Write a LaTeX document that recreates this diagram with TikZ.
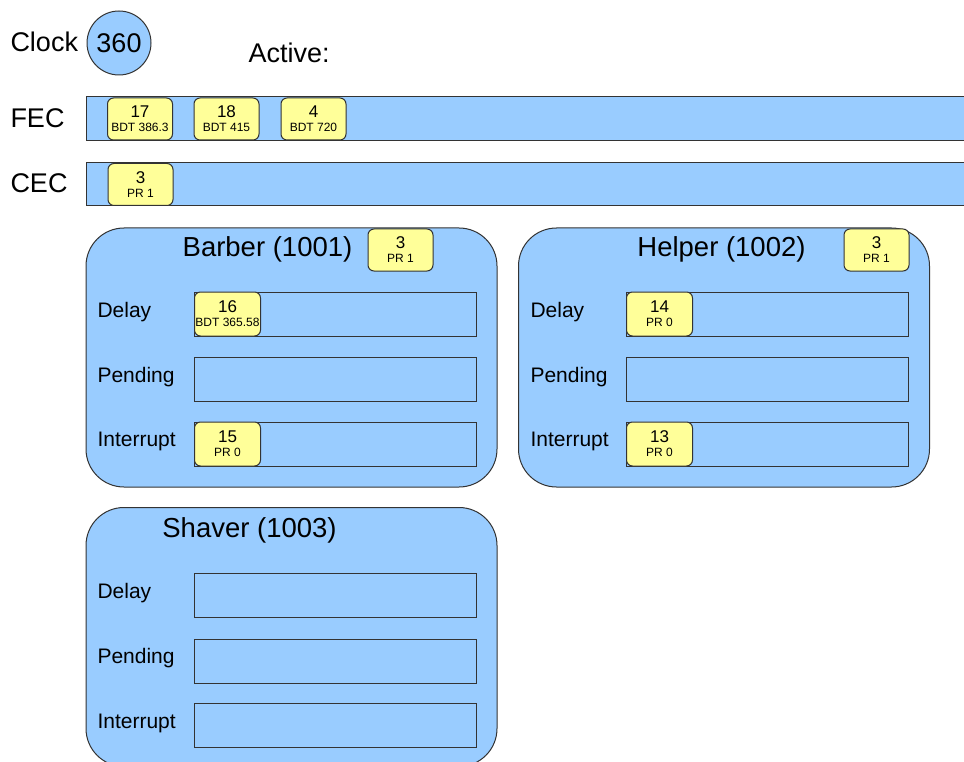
\documentclass[tikz,border=0pt]{standalone}
\usepackage{fontspec}
\setmainfont{Liberation Sans}
\usetikzlibrary{positioning}

\definecolor{laneblue}{HTML}{99CCFF}
\definecolor{itemyellow}{HTML}{FFFF99}
\definecolor{edgegray}{HTML}{333333}
\newcommand{\smalltxt}{\fontsize{12}{13}\selectfont}

\begin{document}
\begin{tikzpicture}[x=1pt, y=-1pt, line width=1pt,
    big/.style={inner sep=0pt, font=\fontsize{27}{29}\selectfont},
    lbl/.style={inner sep=0pt, anchor=base west, font=\fontsize{21}{23}\selectfont},
    title/.style={inner sep=0pt, anchor=base, font=\fontsize{27.5}{29}\selectfont},
    queue/.style={draw=edgegray, fill=laneblue, inner sep=0pt, minimum width=884pt},
    proc/.style={draw=edgegray, fill=laneblue, inner sep=0pt, rounded corners=38pt, minimum width=411pt, minimum height=259pt},
    slot/.style={draw=edgegray, fill=laneblue, inner sep=0pt, minimum width=282pt, minimum height=44pt},
    token/.style={draw=edgegray, fill=itemyellow, inner sep=0pt, rounded corners=6pt, minimum width=65pt, minimum height=42pt, align=center, font=\fontsize{17}{14}\selectfont}]
        \path[use as bounding box] (0,0) rectangle (964,762);
        \clip (0,0) rectangle (964,762);
        % clock and active
        \node (clocklabel) at (10,52) [big, anchor=base west] {Clock};
        \node (clock) at (119,43) [circle, draw=edgegray, fill=laneblue, minimum size=64pt, inner sep=0pt, font=\fontsize{27}{29}\selectfont] {360};
        \node (active) at (248,63) [big, anchor=base west] {Active:};
        % event chains
        \node (feclabel) at (10,128) [big, anchor=base west] {FEC};
        \node (fec) at (528,119) [queue, minimum height=44pt] {};
        \node (fec17) at (140,119) [token] {17\\{\smalltxt BDT 386.3}};
        \node (fec18) at (226.5,119) [token] {18\\{\smalltxt BDT 415}};
        \node (fec4) at (313.5,119) [token] {4\\{\smalltxt BDT 720}};
        \node (ceclabel) at (10,193) [big, anchor=base west] {CEC};
        \node (cec) at (528,184.5) [queue, minimum height=43pt] {};
        \node (cec3) at (140.5,184.5) [token] {3\\{\smalltxt PR 1}};
        % barber
        \node (barber) at (291.5,357.5) [proc] {};
        \node (barbertitle) at (267.5,257) [title] {Barber (1001)};
        \node (barbertok) at (400.5,250) [token] {3\\{\smalltxt PR 1}};
        \node (barberdelay) at (335.5,314) [slot] {};
        \node (barberpending) at (335.5,379) [slot] {};
        \node (barberinterrupt) at (335.5,444) [slot] {};
        \node at (97,317) [lbl] {Delay};
        \node at (97,382) [lbl] {Pending};
        \node at (97,446) [lbl] {Interrupt};
        \node (tok16) at (barberdelay.west) [token, anchor=west, minimum width=66pt, minimum height=44pt] {16\\{\smalltxt BDT 365.58}};
        \node (tok15) at (barberinterrupt.west) [token, anchor=west, minimum width=66pt, minimum height=44pt] {15\\{\smalltxt PR 0}};
        % helper
        \node (helper) at (724,357.5) [proc] {};
        \node (helpertitle) at (721.5,257) [title] {Helper (1002)};
        \node (helpertok) at (876.5,250) [token] {3\\{\smalltxt PR 1}};
        \node (helperdelay) at (767.5,314) [slot] {};
        \node (helperpending) at (767.5,379) [slot] {};
        \node (helperinterrupt) at (767.5,444) [slot] {};
        \node at (530,317) [lbl] {Delay};
        \node at (530,382) [lbl] {Pending};
        \node at (530,446) [lbl] {Interrupt};
        \node (tok14) at (helperdelay.west) [token, anchor=west, minimum width=66pt, minimum height=44pt] {14\\{\smalltxt PR 0}};
        \node (tok13) at (helperinterrupt.west) [token, anchor=west, minimum width=66pt, minimum height=44pt] {13\\{\smalltxt PR 0}};
        % shaver
        \node (shaver) at (291.5,637) [proc] {};
        \node (shavertitle) at (249.5,537) [title] {Shaver (1003)};
        \node (shaverdelay) at (335.5,595.5) [slot] {};
        \node (shaverpending) at (335.5,661) [slot] {};
        \node (shaverinterrupt) at (335.5,725) [slot] {};
        \node at (97,598) [lbl] {Delay};
        \node at (97,663) [lbl] {Pending};
        \node at (97,728) [lbl] {Interrupt};
    \end{tikzpicture}
\end{document}
